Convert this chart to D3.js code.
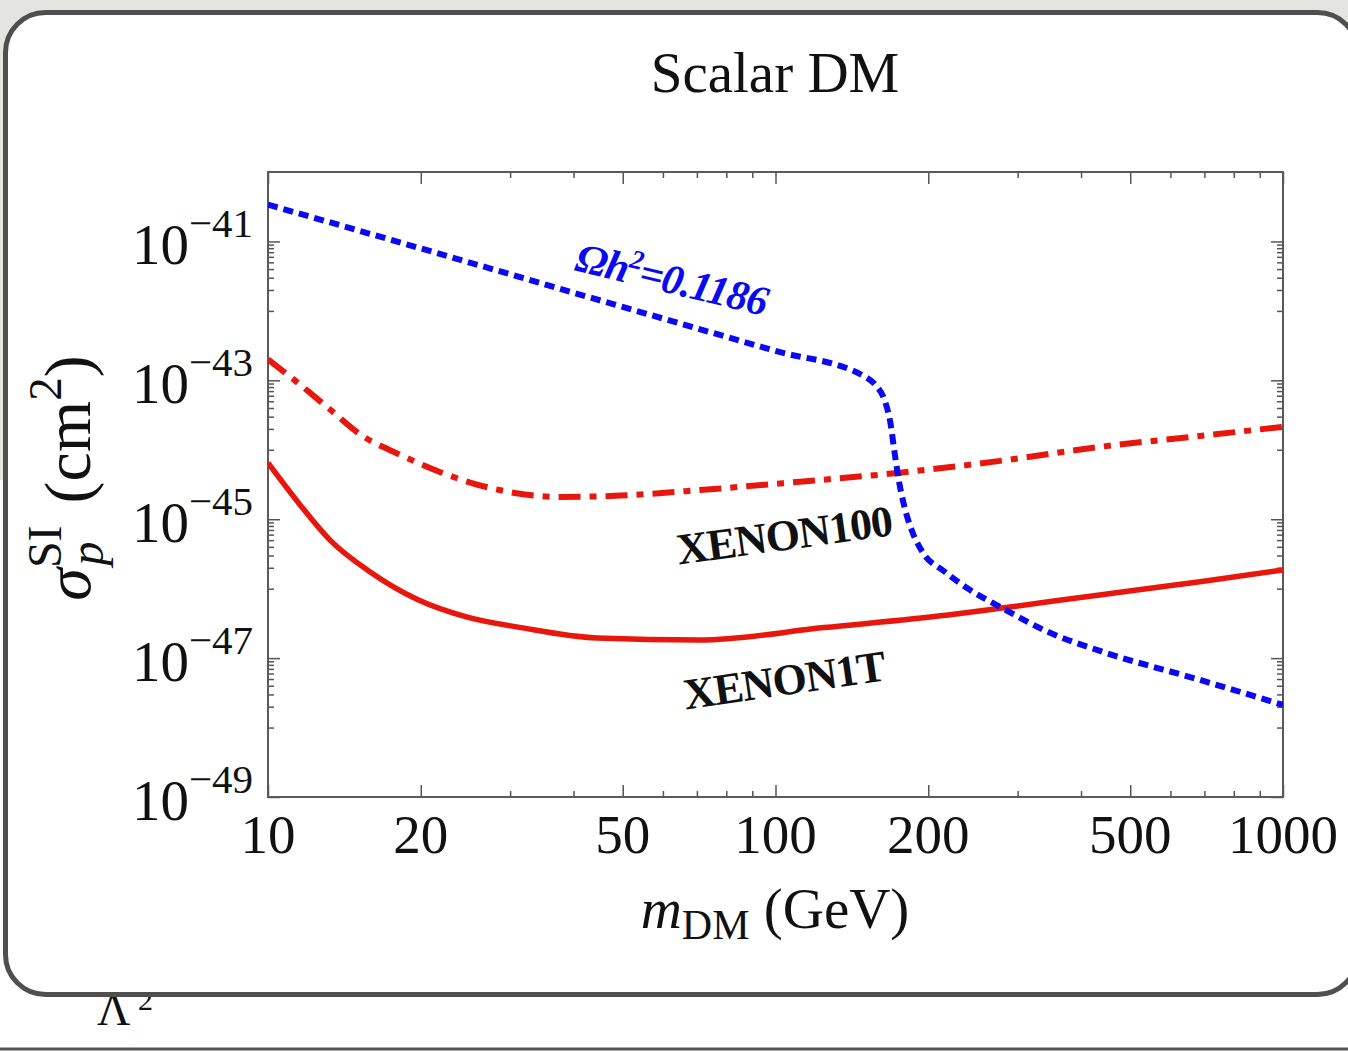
<!DOCTYPE html>
<html><head><meta charset="utf-8">
<script src="https://cdn.jsdelivr.net/npm/d3@7"></script>
<style>
body{margin:0;background:#fff;}
svg{display:block;}
text{font-family:"Liberation Serif","Times New Roman",serif;}
</style>
</head><body>
<svg id="chart" width="1348" height="1051"></svg>
<script>
// ---- data ----
const relicMass   = [10, 20, 50, 100, 150, 158, 164, 168.5, 171.5, 175, 180, 186, 194.4, 215.8, 241.5, 277, 347.5, 435.8, 686.3, 1000];
const relicSigma  = [3.39e-41, 7.94e-42, 1.14e-42, 2.65e-43, 1.13e-43, 8.3e-44, 5.2e-44, 2.4e-44, 9.5e-45, 3.6e-45, 1.4e-45, 6.6e-46, 3.45e-46, 1.74e-46, 9.62e-47, 5.47e-47, 2.31e-47, 1.27e-47, 4.85e-48, 2.12e-48];

const x100Mass    = [10, 11.56, 13.25, 15.2, 18.2, 21.8, 27.4, 37.6, 49.4, 71, 111.7, 176, 277, 435, 686, 1000];
const x100Sigma   = [2.00e-43, 8.71e-44, 3.80e-44, 1.66e-44, 8.51e-45, 4.79e-45, 2.82e-45, 2.09e-45, 2.19e-45, 2.63e-45, 3.47e-45, 4.68e-45, 6.92e-45, 1.10e-44, 1.58e-44, 2.14e-44];

const x1tMass     = [10, 11.56, 13.25, 15.9, 19.75, 24.7, 31.5, 44.5, 71, 124.6, 218.8, 279, 435, 686, 1000];
const x1tSigma    = [6.46e-45, 1.62e-45, 5.01e-46, 1.74e-46, 6.92e-47, 3.89e-47, 2.75e-47, 1.95e-47, 1.82e-47, 2.75e-47, 4.17e-47, 5.25e-47, 8.13e-47, 1.26e-46, 1.86e-46];

const xTickValues = [10, 20, 50, 100, 200, 500, 1000];
const xTickLabels = ["10", "20", "50", "100", "200", "500", "1000"];
const xMinorTicks = [30, 40, 60, 70, 80, 90, 300, 400, 600, 700, 800, 900];
const yTickExponents = [-49, -47, -45, -43, -41];
const yTickLabels = ["\u221249", "\u221247", "\u221245", "\u221243", "\u221241"];

const titleText = "Scalar DM";
const relicLabel = {mass: 62.5, sigma: 2.9e-42, angle: 13.5};
const x100Label  = {text: "XENON100", mass: 104, sigma: 6.0e-46, angle: -7.8};
const x1tLabel   = {text: "XENON1T", mass: 104, sigma: 4.9e-48, angle: -8.3};

// ---- drawing ----
const svg = d3.select("#chart");
const W = 1348, H = 1051;
const L = 268, R = 1283, T = 172, B = 797;

// page background
svg.append("rect").attr("x",0).attr("y",0).attr("width",W).attr("height",H).attr("fill","#ffffff");
svg.append("rect").attr("x",0).attr("y",0).attr("width",W).attr("height",480).attr("fill","#e4e4e0");
svg.append("text").attr("x",97).attr("y",1025).attr("font-size",46).attr("fill","#111").text("\u039B");
svg.append("text").attr("x",138).attr("y",1010).attr("font-size",30).attr("fill","#111").text("2");
svg.append("line").attr("x1",0).attr("x2",W).attr("y1",1049).attr("y2",1049).attr("stroke","#555").attr("stroke-width",3);
svg.append("rect").attr("x",5.5).attr("y",12.5).attr("width",1352).attr("height",982).attr("rx",40)
  .attr("fill","#ffffff").attr("stroke","#4f4f4f").attr("stroke-width",5);

const x = d3.scaleLog().domain([10,1000]).range([L,R]);
const y = d3.scaleLog().domain([1e-49,1e-40]).range([B,T]);

const defs = svg.append("defs");
defs.append("clipPath").attr("id","plotclip").append("rect")
  .attr("x",L).attr("y",T).attr("width",R-L).attr("height",B-T);

// ticks via axes
const tickColor = "#555";
function styleAxis(g){
  g.select(".domain").remove();
  g.selectAll(".tick line").attr("stroke",tickColor).attr("stroke-width",1.5);
  g.selectAll(".tick text").remove();
}
const yMajor = yTickExponents.map(e => Math.pow(10,e));
const yMinor = [];
yTickExponents.forEach(e => { if (e > -49) for (let m=1;m<=9;m++) yMinor.push(m*Math.pow(10,e-1)); });

svg.append("g").attr("transform",`translate(0,${B})`).call(d3.axisBottom(x).tickValues(xTickValues).tickSize(-12).tickFormat("")).call(styleAxis);
svg.append("g").attr("transform",`translate(0,${B})`).call(d3.axisBottom(x).tickValues(xMinorTicks).tickSize(-6).tickFormat("")).call(styleAxis);
svg.append("g").attr("transform",`translate(0,${T})`).call(d3.axisTop(x).tickValues(xTickValues).tickSize(-12).tickFormat("")).call(styleAxis);
svg.append("g").attr("transform",`translate(0,${T})`).call(d3.axisTop(x).tickValues(xMinorTicks).tickSize(-6).tickFormat("")).call(styleAxis);
svg.append("g").attr("transform",`translate(${L},0)`).call(d3.axisLeft(y).tickValues(yMajor).tickSize(-12).tickFormat("")).call(styleAxis);
svg.append("g").attr("transform",`translate(${L},0)`).call(d3.axisLeft(y).tickValues(yMinor).tickSize(-6).tickFormat("")).call(styleAxis);
svg.append("g").attr("transform",`translate(${R},0)`).call(d3.axisRight(y).tickValues(yMajor).tickSize(-12).tickFormat("")).call(styleAxis);
svg.append("g").attr("transform",`translate(${R},0)`).call(d3.axisRight(y).tickValues(yMinor).tickSize(-6).tickFormat("")).call(styleAxis);

// frame
svg.append("rect").attr("x",L).attr("y",T).attr("width",R-L).attr("height",B-T)
  .attr("fill","none").attr("stroke","#5a5a5a").attr("stroke-width",2);

// curves
const line = d3.line().x(d=>x(d[0])).y(d=>y(d[1])).curve(d3.curveMonotoneX);
const plot = svg.append("g").attr("clip-path","url(#plotclip)");
plot.append("path").datum(x1tMass.map((m,i)=>[m,x1tSigma[i]])).attr("d",line)
  .attr("fill","none").attr("stroke","#e8170d").attr("stroke-width",5.5);
plot.append("path").datum(x100Mass.map((m,i)=>[m,x100Sigma[i]])).attr("d",line)
  .attr("fill","none").attr("stroke","#e8170d").attr("stroke-width",6).attr("stroke-dasharray","22,9,7,9");
plot.append("path").datum(relicMass.map((m,i)=>[m,relicSigma[i]])).attr("d",line)
  .attr("fill","none").attr("stroke","#0a0af0").attr("stroke-width",6).attr("stroke-dasharray","10,6");

// curve labels
const rl = svg.append("text")
  .attr("transform",`translate(${x(relicLabel.mass)},${y(relicLabel.sigma)}) rotate(${relicLabel.angle})`)
  .attr("text-anchor","middle").attr("dy","0.35em")
  .attr("font-size",42).attr("font-weight","bold").attr("font-style","italic").attr("fill","#0a0af0")
  .attr("letter-spacing",-1);
rl.append("tspan").text("\u03A9h");
rl.append("tspan").attr("font-size",27).attr("dy",-16).text("2");
rl.append("tspan").attr("dy",16).text("=0.1186");

[x100Label, x1tLabel].forEach(lb => {
  svg.append("text")
    .attr("transform",`translate(${x(lb.mass)},${y(lb.sigma)}) rotate(${lb.angle})`)
    .attr("text-anchor","middle").attr("dy","0.35em")
    .attr("font-size",44).attr("font-weight","bold").attr("fill","#111").attr("letter-spacing",-1)
    .text(lb.text);
});

// x tick labels
svg.append("g").selectAll("text").data(xTickValues).join("text")
  .attr("x",d=>x(d)).attr("y",853).attr("text-anchor","middle")
  .attr("font-size",55).attr("fill","#111").text((d,i)=>xTickLabels[i]);

// y tick labels
yTickExponents.forEach((e,i) => {
  const yy = y(Math.pow(10,e));
  const t = svg.append("text").attr("x",253).attr("y",yy+23).attr("text-anchor","end")
    .attr("font-size",57).attr("fill","#111");
  t.append("tspan").text("10");
  t.append("tspan").attr("font-size",41).attr("dy",-27).text(yTickLabels[i]);
});

// title
svg.append("text").attr("x",775).attr("y",92).attr("text-anchor","middle")
  .attr("font-size",57).attr("fill","#111").text(titleText);

// x axis title
const xt = svg.append("text").attr("x",775).attr("y",928).attr("text-anchor","middle")
  .attr("font-size",57).attr("fill","#111");
xt.append("tspan").attr("font-style","italic").text("m");
xt.append("tspan").attr("font-size",42).attr("dy",11).text("DM");
xt.append("tspan").attr("dy",-11).text(" (GeV)");

// y axis title
const yt = svg.append("g").attr("transform","translate(90,478) rotate(-90)");
const ytt = yt.append("text").attr("x",0).attr("y",0).attr("text-anchor","middle")
  .attr("font-size",66).attr("fill","#111");
ytt.append("tspan").attr("font-style","italic").text("\u03C3");
ytt.append("tspan").attr("font-size",48).attr("dy",-29).text("SI");
ytt.append("tspan").attr("font-size",48).attr("font-style","italic").attr("dx",-40).attr("dy",42).text("p");
ytt.append("tspan").attr("dy",-13).attr("dx",38).text("(cm");
ytt.append("tspan").attr("font-size",47).attr("dy",-29).text("2");
ytt.append("tspan").attr("dy",29).text(")");
</script>
</body></html>
